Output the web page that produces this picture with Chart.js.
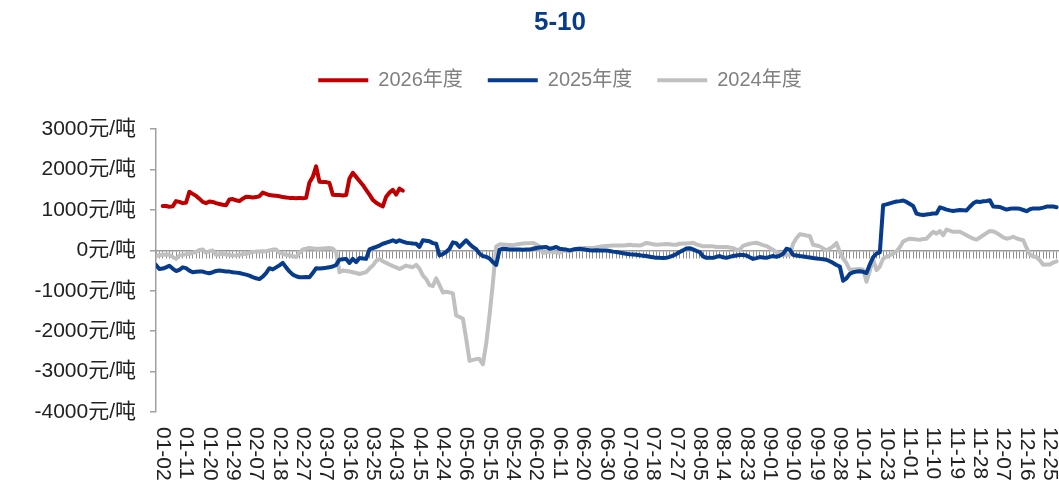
<!DOCTYPE html>
<html>
<head>
<meta charset="utf-8">
<script src="https://cdn.jsdelivr.net/npm/chart.js@4.4.1/dist/chart.umd.min.js"></script>
<style>
  html, body { margin: 0; padding: 0; overflow: hidden; background: #fff; }
  #wrap { width: 1120px; height: 485px; }
</style>
</head>
<body>
<div id="wrap"><canvas id="myChart" width="1120" height="485"></canvas></div>
<script>
const FONT = "'Liberation Sans', 'Noto Sans CJK SC', sans-serif"

const seriesNames = ['2026年度', '2025年度', '2024年度']

// every 7th trading day is labelled, first label sits on category 2
const tickLabels = ['01-02', '01-11', '01-20', '01-29', '02-07', '02-18', '02-27', '03-07', '03-16', '03-25',
    '04-03', '04-15', '04-24', '05-06', '05-15', '05-24', '06-02', '06-11', '06-20', '06-30',
    '07-09', '07-18', '07-27', '08-05', '08-14', '08-23', '09-01', '09-10', '09-19', '09-28',
    '10-14', '10-23', '11-01', '11-10', '11-19', '11-28', '12-07', '12-16', '12-25']
const labelStart = 2
const labelEvery = 7

const y2026 = [null, null, 1100, 1100, 1080, 1090, 1220, 1200, 1170, 1180,
    1450, 1400, 1350, 1280, 1200, 1170, 1210, 1200, 1170, 1150,
    1130, 1120, 1260, 1270, 1240, 1220, 1280, 1330, 1320, 1310,
    1320, 1340, 1430, 1400, 1370, 1360, 1350, 1340, 1320, 1310,
    1300, 1300, 1290, 1300, 1290, 1300, 1680, 1820, 2080, 1700,
    1690, 1690, 1670, 1380, 1370, 1370, 1360, 1370, 1780, 1920,
    1820, 1720, 1620, 1500, 1380, 1250, 1180, 1130, 1090, 1330,
    1430, 1500, 1380, 1530, 1480]

const y2025 = [-360, -460, -450, -420, -380, -450, -510, -480, -420, -440,
    -500, -540, -530, -520, -525, -550, -565, -540, -510, -500,
    -510, -520, -525, -540, -550, -560, -580, -600, -625, -660,
    -690, -710, -650, -560, -440, -470, -420, -370, -310, -420,
    -520, -600, -640, -665, -665, -660, -665, -560, -440, -450,
    -440, -430, -415, -400, -360, -230, -220, -210, -310, -210,
    -290, -190, -200, -210, 25, 60, 85, 120, 165, 190,
    220, 250, 210, 250, 220, 190, 180, 170, 165, 85,
    250, 240, 225, 180, 165, -125, -90, -40, 40, 200,
    180, 85, 170, 250, 160, 85, 30, -80, -140, -160,
    -200, -290, -360, 20, 40, 35, 25, 20, 25, 20,
    15, 20, 20, 40, 60, 70, 80, 85, 40, 60,
    85, 40, 30, 20, 0, 20, 35, 40, 30, 15,
    5, 0, 5, 0, -5, 0, -15, -30, -40, -55,
    -70, -85, -95, -100, -110, -120, -130, -140, -155, -170,
    -185, -185, -190, -185, -160, -130, -90, -40, 0, 50,
    55, 25, -10, -40, -150, -185, -180, -185, -160, -140,
    -170, -185, -160, -140, -125, -110, -115, -125, -170, -210,
    -190, -165, -175, -185, -160, -140, -160, -130, -85, 40,
    20, -110, -125, -140, -150, -165, -175, -190, -200, -210,
    -220, -230, -270, -310, -360, -400, -750, -690, -580, -540,
    -525, -515, -530, -560, -350, -165, -80, -50, 1120, 1140,
    1165, 1190, 1210, 1220, 1235, 1200, 1150, 1100, 910, 890,
    875, 890, 900, 915, 915, 1065, 1040, 1010, 990, 975,
    990, 1000, 995, 990, 1080, 1165, 1210, 1200, 1215, 1225,
    1240, 1085, 1080, 1075, 1040, 1010, 1030, 1040, 1035, 1030,
    1000, 970, 1020, 1040, 1040, 1040, 1060, 1085, 1085, 1085,
    1070]

const y2024 = [-140, -120, -110, -100, -110, -160, -210, -130, -110, -95,
    -85, -60, -40, 10, 25, -60, -20, 0, -110, -95,
    -85, -100, -110, -125, -120, -110, -95, -85, -60, -40,
    -30, -25, -20, -25, 0, 20, 25, -60, -80, -110,
    -120, -145, -165, -60, 25, 40, 60, 50, 40, 40,
    50, 55, 60, 40, -40, -540, -500, -510, -520, -540,
    -560, -585, -560, -540, -450, -375, -260, -210, -270, -310,
    -350, -390, -420, -460, -420, -375, -400, -415, -360, -450,
    -620, -710, -860, -880, -690, -860, -1040, -1025, -1040, -1065,
    -1610, -1650, -1690, -2190, -2735, -2710, -2690, -2690, -2820, -2300,
    -1600, -800, 100, 150, 145, 140, 135, 130, 145, 160,
    170, 175, 180, 185, 150, 100, -65, -45, -25, -40,
    -55, -65, 0, -10, -25, 10, 35, 50, 60, 60,
    60, 60, 75, 90, 100, 110, 115, 120, 120, 120,
    120, 130, 140, 130, 125, 120, 150, 185, 170, 150,
    140, 145, 150, 160, 150, 140, 140, 165, 170, 170,
    180, 190, 150, 125, 100, 100, 100, 100, 85, 85,
    85, 85, 70, 60, 15, 20, 110, 140, 165, 180,
    190, 160, 130, 110, 60, 15, -40, -80, -110, -110,
    -110, 165, 300, 400, 390, 370, 355, 140, 120, 100,
    50, 0, 50, 100, 185, -40, -200, -315, -480, -470,
    -465, -460, -480, -775, -500, -220, -490, -400, -200, -160,
    -120, -80, -20, 80, 220, 260, 290, 280, 270, 265,
    280, 290, 380, 460, 415, 480, 375, 515, 490, 460,
    460, 460, 420, 375, 330, 290, 265, 320, 375, 430,
    480, 470, 430, 380, 320, 290, 310, 335, 300, 270,
    250, 60, -100, -150, -165, -250, -355, -350, -350, -300,
    -270]

const colors = ['#c00000', '#073b8b', '#c0c0c0']

function toPoints(arr) {
    return arr.map((v, i) => ({x: i, y: v}))
}

// rotated date labels under the plot, reading top to bottom
const xLabels = {
    id: 'xLabels',
    afterDraw(chart) {
        const ctx = chart.ctx
        const xs = chart.scales.x
        const bottom = chart.chartArea.bottom
        ctx.save()
        ctx.font = '21px ' + FONT
        ctx.fillStyle = '#222'
        ctx.textAlign = 'left'
        ctx.textBaseline = 'middle'
        tickLabels.forEach((t, k) => {
            const px = xs.getPixelForValue(labelStart + k * labelEvery)
            ctx.save()
            ctx.translate(px, bottom + 15)
            ctx.rotate(Math.PI / 2)
            ctx.fillText(t, 0, 0)
            ctx.restore()
        })
        ctx.restore()
    }
}

const allSeries = [y2026, y2025, y2024]

new Chart(document.getElementById('myChart'), {
    type: 'line',
    data: {
        datasets: allSeries.map((s, i) => ({
            label: seriesNames[i],
            data: toPoints(s),
            borderColor: colors[i],
            backgroundColor: colors[i],
            borderWidth: 4,
            pointRadius: 0,
            tension: 0,
            borderCapStyle: 'round',
            borderJoinStyle: 'round'
        }))
    },
    options: {
        responsive: false,
        animation: false,
        events: [],
        layout: {padding: {left: 0, right: 0, top: 0, bottom: 73}},
        scales: {
            x: {
                type: 'linear',
                min: 0,
                max: 289,
                position: {y: 0},
                afterFit: (s) => { s.height = 0 },
                ticks: {display: false, stepSize: 1, maxTicksLimit: 400},
                grid: {drawOnChartArea: false, drawTicks: true, tickLength: 7, color: '#8f8f8f', lineWidth: 1},
                border: {display: true, color: '#999999', width: 1.5}
            },
            y: {
                min: -4000,
                max: 3000,
                afterFit: (s) => { s.width = 156 },
                ticks: {
                    stepSize: 1000,
                    padding: 14,
                    color: '#222',
                    font: {size: 21, family: FONT},
                    callback: (v) => v + '元/吨'
                },
                grid: {drawOnChartArea: false, drawTicks: true, tickLength: 6, color: '#a0a0a0', lineWidth: 1.5},
                border: {display: true, color: '#a0a0a0', width: 1.5}
            }
        },
        plugins: {
            title: {
                display: true,
                text: '5-10',
                color: '#073b8b',
                font: {size: 26, weight: 'bold', family: FONT},
                padding: {top: 7, bottom: 7}
            },
            legend: {
                display: true,
                position: 'top',
                labels: {
                    usePointStyle: true,
                    pointStyle: 'line',
                    pointStyleWidth: 50,
                    padding: 25,
                    color: '#808080',
                    font: {size: 20, family: FONT}
                }
            },
            // empty spacer below the legend
            subtitle: {
                display: true,
                text: ' ',
                weight: 100,
                font: {size: 10},
                padding: {top: 0, bottom: 17}
            },
            tooltip: {enabled: false}
        }
    },
    plugins: [xLabels]
})
</script>
</body>
</html>
